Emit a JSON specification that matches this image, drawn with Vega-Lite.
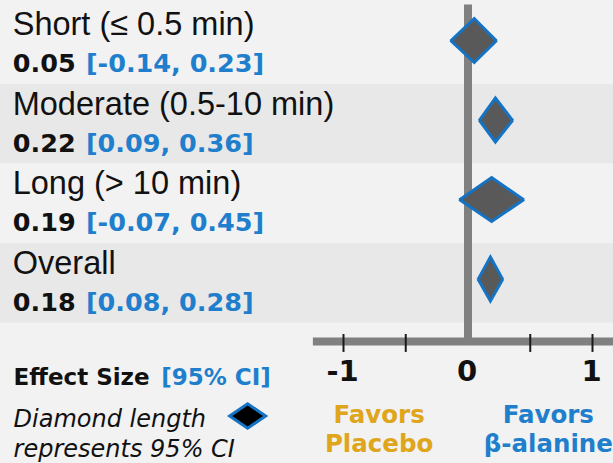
{
  "$schema": "https://vega.github.io/schema/vega-lite/v6.json",
  "width": 613,
  "height": 463,
  "autosize": {"type": "none"},
  "padding": 0,
  "background": "#f2f2f2",
  "config": {"view": {"stroke": null}, "text": {"font": "DejaVu Sans"}},
  "datasets": {
    "rows": [
      {"label": "Short", "name": "Short (≤ 0.5 min)", "est": 0.05, "lo": -0.14, "hi": 0.23, "ci": "[-0.14, 0.23]"},
      {"label": "Moderate", "name": "Moderate (0.5-10 min)", "est": 0.22, "lo": 0.09, "hi": 0.36, "ci": "[0.09, 0.36]"},
      {"label": "Long", "name": "Long (> 10 min)", "est": 0.19, "lo": -0.07, "hi": 0.45, "ci": "[-0.07, 0.45]"},
      {"label": "Overall", "name": "Overall", "est": 0.18, "lo": 0.08, "hi": 0.28, "ci": "[0.08, 0.28]"}
    ],
    "vertexKinds": [
      {"end": "lo", "kind": "edge"},
      {"end": "hi", "kind": "edge"},
      {"end": "est", "kind": "tip"}
    ],
    "ticks": [{"v": -1}, {"v": -0.5}, {"v": 0.5}, {"v": 1}],
    "tickLabels": [{"v": -1, "lab": "-1"}, {"v": 0, "lab": "0"}, {"v": 1, "lab": "1"}],
    "one": [{"n": 1}]
  },
  "resolve": {"scale": {"yOffset": "independent"}},
  "layer": [
    {
      "data": {"name": "rows"},
      "mark": {"type": "rect"},
      "encoding": {
        "y": {"field": "label", "type": "nominal", "axis": null, "scale": {"type": "band", "domain": ["Short", "Moderate", "Long", "Overall", "axis", "note"], "range": [4.5, 481.5], "paddingInner": 0, "paddingOuter": 0}},
        "fill": {"field": "label", "type": "nominal", "legend": null, "scale": {"domain": ["Short", "Moderate", "Long", "Overall"], "range": ["#f2f2f2", "#e8e8e8", "#f2f2f2", "#e8e8e8"]}}
      }
    },
    {
      "data": {"name": "one"},
      "mark": {"type": "rule", "color": "#808080", "strokeWidth": 8},
      "encoding": {
        "x": {"datum": 0, "type": "quantitative", "axis": null, "scale": {"domain": [-1, 1], "range": [343.5, 592.5], "nice": false, "zero": false}},
        "y": {"datum": "Short", "type": "nominal", "bandPosition": 0, "axis": null},
        "y2": {"datum": "axis", "bandPosition": 0.24}
      }
    },
    {
      "data": {"name": "one"},
      "mark": {"type": "rule", "color": "#808080", "strokeWidth": 8},
      "encoding": {
        "x": {"datum": -1.246, "type": "quantitative", "axis": null},
        "x2": {"datum": 1.3},
        "y": {"datum": "axis", "type": "nominal", "bandPosition": 0.239, "axis": null}
      }
    },
    {
      "data": {"name": "ticks"},
      "mark": {"type": "rule", "color": "#1a1a1a", "strokeWidth": 2},
      "encoding": {
        "x": {"field": "v", "type": "quantitative", "axis": null},
        "y": {"datum": "axis", "type": "nominal", "bandPosition": 0.145, "axis": null},
        "y2": {"datum": "axis", "bandPosition": 0.37}
      }
    },
    {
      "data": {"name": "rows"},
      "transform": [
        {"fold": ["lo", "est", "hi"], "as": ["end", "v"]},
        {"lookup": "end", "from": {"data": {"name": "vertexKinds"}, "key": "end", "fields": ["kind"]}}
      ],
      "mark": {"type": "line", "fill": "#595959", "stroke": "#1473c4", "strokeWidth": 3, "strokeJoin": "miter"},
      "encoding": {
        "x": {"field": "v", "type": "quantitative", "axis": null},
        "y": {"field": "label", "type": "nominal", "axis": null},
        "yOffset": {"field": "kind", "type": "nominal", "scale": {"type": "point", "domain": ["edge", "tip"], "range": [36, 58], "padding": 0}},
        "detail": {"field": "label"},
        "order": {"field": "v", "type": "quantitative"}
      }
    },
    {
      "data": {"name": "rows"},
      "transform": [
        {"fold": ["lo", "est", "hi"], "as": ["end", "v"]},
        {"lookup": "end", "from": {"data": {"name": "vertexKinds"}, "key": "end", "fields": ["kind"]}}
      ],
      "mark": {"type": "line", "fill": "#595959", "stroke": "#1473c4", "strokeWidth": 3, "strokeJoin": "miter"},
      "encoding": {
        "x": {"field": "v", "type": "quantitative", "axis": null},
        "y": {"field": "label", "type": "nominal", "axis": null},
        "yOffset": {"field": "kind", "type": "nominal", "scale": {"type": "point", "domain": ["tip", "edge"], "range": [14, 36.6], "padding": 0}},
        "detail": {"field": "label"},
        "order": {"field": "v", "type": "quantitative"}
      }
    },
    {
      "data": {"name": "rows"},
      "mark": {"type": "text", "align": "left", "baseline": "alphabetic", "font": "Liberation Sans", "fontSize": 32.5, "color": "#111111"},
      "encoding": {
        "x": {"datum": -3.657, "type": "quantitative", "axis": null},
        "y": {"field": "label", "type": "nominal", "bandPosition": 0.385, "axis": null},
        "text": {"field": "name"}
      }
    },
    {
      "data": {"name": "rows"},
      "mark": {"type": "text", "align": "left", "baseline": "alphabetic", "fontSize": 25.5, "fontWeight": "bold", "color": "#111111"},
      "encoding": {
        "x": {"datum": -3.657, "type": "quantitative", "axis": null},
        "y": {"field": "label", "type": "nominal", "bandPosition": 0.855, "axis": null},
        "text": {"field": "est", "type": "quantitative", "format": ".2f"}
      }
    },
    {
      "data": {"name": "rows"},
      "mark": {"type": "text", "align": "left", "baseline": "alphabetic", "fontSize": 25.5, "fontWeight": "bold", "color": "#1f7fcc"},
      "encoding": {
        "x": {"datum": -3.069, "type": "quantitative", "axis": null},
        "y": {"field": "label", "type": "nominal", "bandPosition": 0.855, "axis": null},
        "text": {"field": "ci"}
      }
    },
    {
      "data": {"name": "tickLabels"},
      "mark": {"type": "text", "align": "center", "baseline": "alphabetic", "fontSize": 29, "fontWeight": "bold", "color": "#111111", "dx": -1},
      "encoding": {
        "x": {"field": "v", "type": "quantitative", "axis": null},
        "y": {"datum": "axis", "type": "nominal", "bandPosition": 0.736, "axis": null},
        "text": {"field": "lab"}
      }
    },
    {
      "data": {"name": "one"},
      "mark": {"type": "text", "align": "center", "baseline": "alphabetic", "fontSize": 24.5, "fontWeight": "bold", "color": "#dfa51b", "lineHeight": 29, "text": ["Favors", "Placebo"]},
      "encoding": {
        "x": {"datum": -0.714, "type": "quantitative", "axis": null},
        "y": {"datum": "note", "type": "nominal", "bandPosition": 0.264, "axis": null}
      }
    },
    {
      "data": {"name": "one"},
      "mark": {"type": "text", "align": "center", "baseline": "alphabetic", "fontSize": 24.5, "fontWeight": "bold", "color": "#1f7fcc", "lineHeight": 29, "text": ["Favors", "β-alanine"]},
      "encoding": {
        "x": {"datum": 0.645, "type": "quantitative", "axis": null},
        "y": {"datum": "note", "type": "nominal", "bandPosition": 0.264, "axis": null}
      }
    },
    {
      "data": {"name": "one"},
      "mark": {"type": "text", "align": "left", "baseline": "alphabetic", "fontSize": 23, "fontWeight": "bold", "color": "#111111", "text": "Effect Size"},
      "encoding": {
        "x": {"datum": -3.65, "type": "quantitative", "axis": null},
        "y": {"datum": "axis", "type": "nominal", "bandPosition": 0.786, "axis": null}
      }
    },
    {
      "data": {"name": "one"},
      "mark": {"type": "text", "align": "left", "baseline": "alphabetic", "fontSize": 23, "fontWeight": "bold", "color": "#1f7fcc", "text": "[95% CI]"},
      "encoding": {
        "x": {"datum": -2.464, "type": "quantitative", "axis": null},
        "y": {"datum": "axis", "type": "nominal", "bandPosition": 0.786, "axis": null}
      }
    },
    {
      "data": {"name": "one"},
      "mark": {"type": "text", "align": "left", "baseline": "alphabetic", "fontSize": 24, "fontStyle": "italic", "color": "#111111", "lineHeight": 30, "text": ["Diamond length", "represents 95% CI"]},
      "encoding": {
        "x": {"datum": -3.65, "type": "quantitative", "axis": null},
        "y": {"datum": "note", "type": "nominal", "bandPosition": 0.314, "axis": null}
      }
    },
    {
      "data": {"name": "one"},
      "mark": {"type": "point", "shape": "M -1 0 L 0 -0.68 L 1 0 L 0 0.68 Z", "size": 1296, "filled": true, "fill": "#000000", "stroke": "#1473c4", "strokeWidth": 3, "opacity": 1},
      "encoding": {
        "x": {"datum": -1.77, "type": "quantitative", "axis": null},
        "y": {"datum": "note", "type": "nominal", "bandPosition": 0.176, "axis": null}
      }
    }
  ]
}
